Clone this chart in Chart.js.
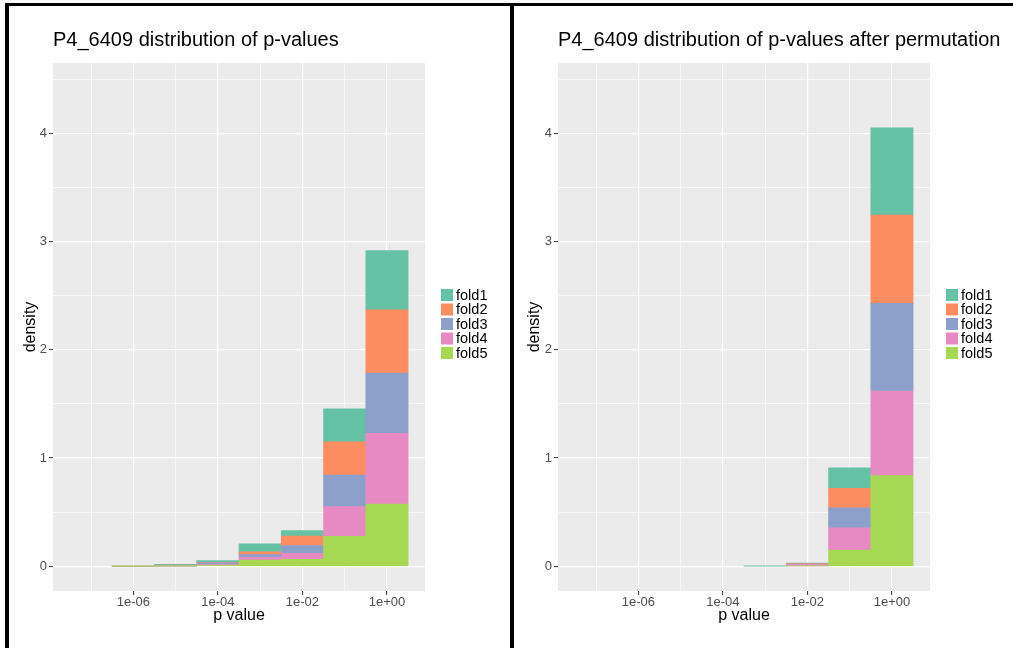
<!DOCTYPE html>
<html>
<head>
<meta charset="utf-8">
<script src="https://cdn.jsdelivr.net/npm/chart.js@4.4.1/dist/chart.umd.min.js"></script>
<style>
  html, body { margin:0; padding:0; background:#ffffff; width:1013px; height:648px; overflow:hidden; position:relative; }
  .line { position:absolute; background:#000000; }
  .wrap { position:absolute; top:7px; height:641px; }
  canvas { display:block; }
</style>
</head>
<body>
<div class="line" style="left:5px;top:3px;width:1008px;height:3px"></div>
<div class="line" style="left:5px;top:3px;width:4px;height:645px"></div>
<div class="line" style="left:510px;top:3px;width:4px;height:645px"></div>
<div class="wrap" style="left:10px;width:500px"><canvas id="c1" width="500" height="641"></canvas></div>
<div class="wrap" style="left:514px;width:499px"><canvas id="c2" width="499" height="641"></canvas></div>
<script>
// ---------- data ----------
const folds = ['fold1', 'fold2', 'fold3', 'fold4', 'fold5'];
const foldColors = ['#66C2A5', '#FC8D62', '#8DA0CB', '#E78AC3', '#A6D854'];
// histogram bin centres, in log10(p value)
const binCentres = [-7, -6, -5, -4, -3, -2, -1, 0];

const xTickValues = [-6, -4, -2, 0];
const xTickLabels = ['1e-06', '1e-04', '1e-02', '1e+00'];
const xMinorValues = [-7, -5, -3, -1];
const yTickValues = [0, 1, 2, 3, 4];
const yTickLabels = ['0', '1', '2', '3', '4'];
const yMinorValues = [0.5, 1.5, 2.5, 3.5, 4.5];

const leftTitle = 'P4_6409 distribution of p-values';
const rightTitle = 'P4_6409 distribution of p-values after permutation';
const xTitle = 'p value';
const yTitle = 'density';

// original p-values (left panel), density per fold
const origFold1 = [0, 0.002,  0.006, 0.016, 0.075, 0.050, 0.305, 0.546];
const origFold2 = [0, 0.0003, 0.002, 0.004, 0.025, 0.088, 0.305, 0.584];
const origFold3 = [0, 0.0003, 0.006, 0.016, 0.025, 0.072, 0.293, 0.557];
const origFold4 = [0, 0.0003, 0.002, 0.008, 0.025, 0.055, 0.274, 0.653];
const origFold5 = [0, 0.0003, 0.002, 0.009, 0.058, 0.065, 0.277, 0.576];

// p-values after permutation (right panel)
const permFold1 = [0, 0, 0, 0, 0.002, 0.006, 0.189, 0.804];
const permFold2 = [0, 0, 0, 0, 0,     0.004, 0.180, 0.816];
const permFold3 = [0, 0, 0, 0, 0,     0.004, 0.185, 0.810];
const permFold4 = [0, 0, 0, 0, 0,     0.013, 0.204, 0.782];
const permFold5 = [0, 0, 0, 0, 0,     0.004, 0.151, 0.838];

// ---------- chart ----------
const FONT = '"Liberation Sans", Arial, Helvetica, sans-serif';
Chart.defaults.font.family = FONT;

const panelBg = {
  id: 'panelBg',
  beforeDraw(chart) {
    const { ctx, chartArea: a } = chart;
    ctx.save();
    ctx.fillStyle = '#EBEBEB';
    ctx.fillRect(a.left, a.top, a.right - a.left, a.bottom - a.top);
    ctx.restore();
  }
};

const foldLegend = {
  id: 'foldLegend',
  afterDraw(chart) {
    const { ctx, chartArea: a } = chart;
    ctx.save();
    ctx.font = '14.5px ' + FONT;
    ctx.textBaseline = 'middle';
    ctx.textAlign = 'left';
    folds.forEach((f, i) => {
      const cy = a.top + 232 + i * 14.5;
      ctx.fillStyle = foldColors[i];
      ctx.fillRect(a.right + 16, cy - 6, 12, 12);
      ctx.fillStyle = '#000000';
      ctx.fillText(f, a.right + 31, cy + 0.5);
    });
    ctx.restore();
  }
};

function makeTitlePlugin(text) {
  return {
    id: 'panelTitle',
    afterDraw(chart) {
      const { ctx, chartArea: a } = chart;
      ctx.save();
      ctx.font = '20px ' + FONT;
      ctx.fillStyle = '#000000';
      ctx.textBaseline = 'middle';
      ctx.textAlign = 'left';
      ctx.fillText(text, a.left, 33);
      ctx.restore();
    }
  };
}

function isIn(arr, v) { return arr.some(t => Math.abs(t - v) < 1e-9); }

function makeChart(id, title, series, yAxisWidth, rightPad) {
  const datasets = folds.map((f, i) => ({
    label: f,
    // empty bins are left out (null) so no zero-height bar is drawn
    data: binCentres.map((x, j) => ({ x: x, y: series[i][j] > 0 ? series[i][j] : null })),
    backgroundColor: foldColors[i],
    borderWidth: 0,
    categoryPercentage: 1,
    barPercentage: 1
  })).reverse(); // fold5 at the bottom of the stack, fold1 on top

  return new Chart(document.getElementById(id), {
    type: 'bar',
    data: { datasets },
    options: {
      responsive: false,
      animation: false,
      events: [],
      layout: { padding: { left: 0, right: rightPad, top: 56, bottom: 0 } },
      plugins: {
        legend: { display: false },
        tooltip: { enabled: false },
        title: { display: false }
      },
      scales: {
        x: {
          type: 'linear', min: -7.9, max: 0.9, stacked: true, offset: false,
          afterBuildTicks(s) {
            s.ticks = xMinorValues.concat(xTickValues).sort((a, b) => a - b).map(v => ({ value: v }));
          },
          afterFit(s) { s.height = 57; },
          grid: {
            offset: false,
            color: '#FFFFFF',
            lineWidth: c => (c.tick && isIn(xTickValues, c.tick.value)) ? 1.2 : 0.6,
            drawTicks: true, tickLength: 4, tickWidth: 1,
            tickColor: c => (c.tick && isIn(xTickValues, c.tick.value)) ? '#333333' : 'rgba(0,0,0,0)'
          },
          border: { display: false },
          ticks: {
            autoSkip: false, maxRotation: 0, minRotation: 0, padding: 0,
            color: '#4D4D4D', font: { size: 13, family: FONT },
            callback(v) {
              const k = xTickValues.findIndex(t => Math.abs(t - v) < 1e-9);
              return k >= 0 ? xTickLabels[k] : '';
            }
          },
          title: {
            display: true, text: xTitle, color: '#000000',
            font: { size: 16, family: FONT }, padding: { top: 0, bottom: 22.4 }
          }
        },
        y: {
          type: 'linear', min: -0.228, max: 4.65, stacked: true,
          afterBuildTicks(s) {
            s.ticks = yTickValues.concat(yMinorValues).sort((a, b) => a - b).map(v => ({ value: v }));
          },
          afterFit(s) { s.width = yAxisWidth; },
          grid: {
            color: '#FFFFFF',
            lineWidth: c => (c.tick && isIn(yTickValues, c.tick.value)) ? 1.2 : 0.6,
            drawTicks: true, tickLength: 4, tickWidth: 1,
            tickColor: c => (c.tick && isIn(yTickValues, c.tick.value)) ? '#333333' : 'rgba(0,0,0,0)'
          },
          border: { display: false },
          ticks: {
            autoSkip: false, padding: 2,
            color: '#4D4D4D', font: { size: 13, family: FONT },
            callback(v) {
              const k = yTickValues.findIndex(t => Math.abs(t - v) < 1e-9);
              return k >= 0 ? yTickLabels[k] : '';
            }
          },
          title: {
            display: true, text: yTitle, color: '#000000',
            font: { size: 16, family: FONT }, padding: { top: 10.5, bottom: 0 }
          }
        }
      }
    },
    plugins: [panelBg, foldLegend, makeTitlePlugin(title)]
  });
}

makeChart('c1', leftTitle,
  [origFold1, origFold2, origFold3, origFold4, origFold5], 43, 85);
makeChart('c2', rightTitle,
  [permFold1, permFold2, permFold3, permFold4, permFold5], 44, 83);
</script>
</body>
</html>
